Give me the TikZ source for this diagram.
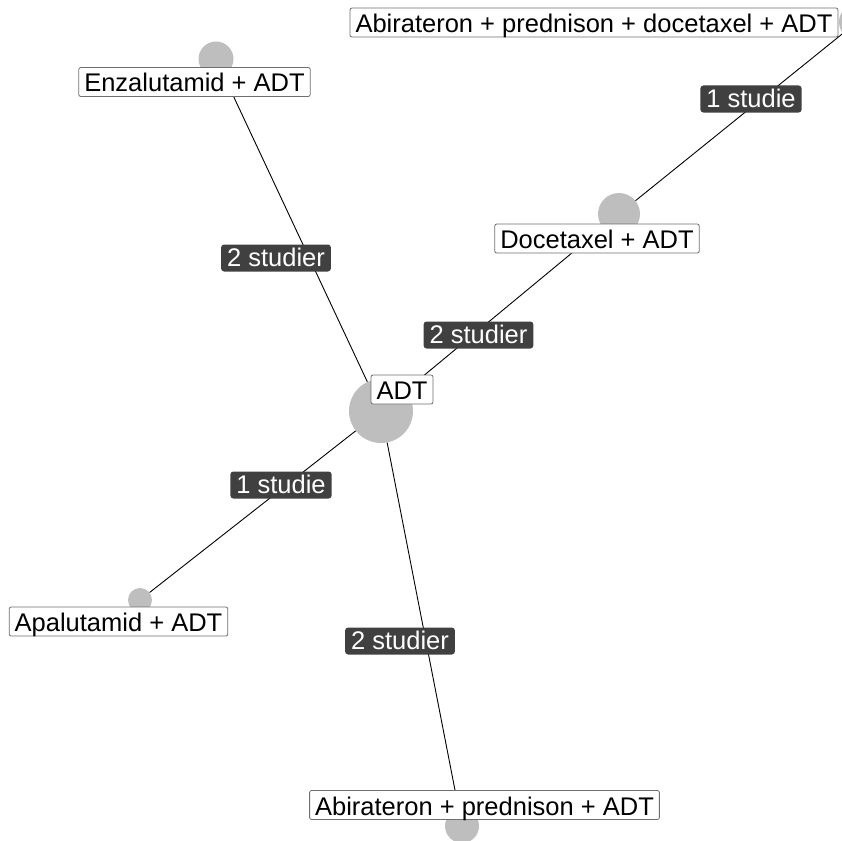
\documentclass[tikz,border=0pt]{standalone}
\usepackage{fontspec}
\setmainfont{Liberation Sans}
\usepackage{tikz}

\definecolor{circgray}{RGB}{190,190,190}
\definecolor{boxgray}{RGB}{110,110,110}
\definecolor{studfill}{RGB}{64,64,64}

\begin{document}
\begin{tikzpicture}[x=1pt,y=-1pt,
  circ/.style={circle,fill=circgray,inner sep=0pt},
  trt/.style={draw=boxgray,fill=white,rounded corners=2pt,line width=0.8pt,
    inner xsep=5.5pt,inner ysep=0.5pt,text height=24pt,text depth=4pt,
    font=\fontsize{25.5}{30}\selectfont},
  stud/.style={fill=studfill,text=white,rounded corners=3pt,
    inner xsep=6pt,inner ysep=0pt,text height=22pt,text depth=5pt,
    font=\fontsize{25.5}{30}\selectfont},
  edge/.style={line width=0.9pt}]
\useasboundingbox (0,0) rectangle (842,840);
\clip (0,0) rectangle (842,840);

\node[circ,minimum size=64pt] (c-adt) at (381,411) {};
\node[circ,minimum size=35pt] (c-enza) at (216,59) {};
\node[circ,minimum size=42pt] (c-doce) at (619,214) {};
\node[circ,minimum size=36pt] (c-abidoce) at (857,22) {};
\node[circ,minimum size=24pt] (c-apa) at (140,600) {};
\node[circ,minimum size=34pt] (c-abipred) at (462,826) {};

\draw[edge] (c-enza) -- (c-adt);
\draw[edge] (c-adt) -- (c-doce);
\draw[edge] (c-doce) -- (c-abidoce);
\draw[edge] (c-adt) -- (c-apa);
\draw[edge] (c-adt) -- (c-abipred);

\node[stud] (s-enza) at (276,258) {2 studier};
\node[stud] (s-abidoce) at (751,99) {1 studie};
\node[stud] (s-doce) at (478.5,335) {2 studier};
\node[stud] (s-apa) at (281,485) {1 studie};
\node[stud] (s-abipred) at (400,641) {2 studier};

\node[trt] (l-abidoce) at (594,22.5) {Abirateron + prednison + docetaxel + ADT};
\node[trt] (l-enza) at (194.5,82) {Enzalutamid + ADT};
\node[trt] (l-doce) at (597,238.5) {Docetaxel + ADT};
\node[trt] (l-adt) at (402,389.5) {ADT};
\node[trt] (l-apa) at (118.5,621.5) {Apalutamid + ADT};
\node[trt] (l-abipred) at (484.5,805) {Abirateron + prednison + ADT};

\end{tikzpicture}
\end{document}
